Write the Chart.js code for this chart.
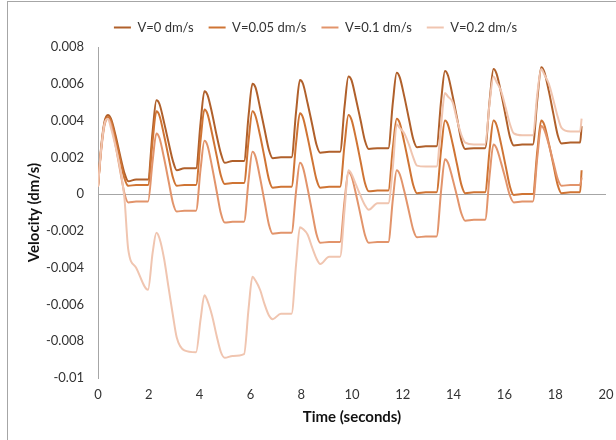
<!DOCTYPE html>
<html>
<head>
<meta charset="utf-8">
<script src="https://cdn.jsdelivr.net/npm/chart.js@4.4.1/dist/chart.umd.min.js"></script>
<style>
  body { margin: 0; background: #fff; }
  #wrap { position: relative; width: 616px; height: 440px; overflow: hidden; }
  #frame { position: absolute; left: 7px; top: 1px; width: 640px; height: 460px;
           border-left: 1px solid #a6a6a6; border-top: 1px solid #a6a6a6; }
  canvas { position: absolute; left: 0; top: 0; }
</style>
</head>
<body>
<div id="wrap">
  <div id="frame"></div>
  <canvas id="chart" width="616" height="440"></canvas>
</div>
<script>
// time (seconds), shared by all four series
const times = [
  0, 0.12, 0.25, 0.39, 0.51, 0.69, 0.87, 1.04, 1.19, 1.5,
  1.97, 2.15, 2.30, 2.42, 2.60, 2.78, 2.95, 3.10, 3.40,
  3.86, 4.04, 4.19, 4.31, 4.49, 4.67, 4.84, 4.99, 5.30,
  5.75, 5.93, 6.08, 6.20, 6.38, 6.56, 6.73, 6.88, 7.20,
  7.62, 7.80, 7.95, 8.07, 8.25, 8.43, 8.60, 8.75, 9.10,
  9.53, 9.71, 9.86, 9.98, 10.16, 10.34, 10.51, 10.66, 11.00,
  11.43, 11.61, 11.76, 11.88, 12.06, 12.24, 12.41, 12.56, 12.90,
  13.33, 13.51, 13.66, 13.78, 13.96, 14.14, 14.31, 14.46, 14.80,
  15.24, 15.42, 15.57, 15.69, 15.87, 16.05, 16.22, 16.37, 16.70,
  17.12, 17.30, 17.45, 17.57, 17.75, 17.93, 18.10, 18.25, 18.60,
  18.98, 19.04
];

const v0 = [
  0.0004, 0.0025, 0.0039, 0.0043, 0.0041, 0.0032, 0.0021, 0.00115, 0.0007, 0.0008,
  0.0008, 0.0034, 0.0051, 0.0049, 0.0039, 0.0028, 0.0018, 0.0013, 0.0014,
  0.0014, 0.0039, 0.0056, 0.0054, 0.0044, 0.0032, 0.0022, 0.0017, 0.0018,
  0.0018, 0.0043, 0.0060, 0.0058, 0.0047, 0.0035, 0.0024, 0.00195, 0.0020,
  0.0020, 0.0045, 0.0062, 0.0060, 0.00495, 0.0038, 0.0027, 0.00225, 0.0023,
  0.0023, 0.0048, 0.0064, 0.0062, 0.00515, 0.0040, 0.0029, 0.00245, 0.0025,
  0.0025, 0.0050, 0.0066, 0.00635, 0.0053, 0.0041, 0.0030, 0.00255, 0.0026,
  0.0026, 0.0051, 0.0067, 0.00645, 0.00535, 0.0041, 0.0029, 0.00245, 0.0025,
  0.0025, 0.0051, 0.0068, 0.00655, 0.0055, 0.00425, 0.0031, 0.00265, 0.0027,
  0.0027, 0.0052, 0.0069, 0.00665, 0.0056, 0.00435, 0.0032, 0.00275, 0.0028,
  0.0028, 0.0037
];

const v005 = [
  0.0004, 0.0024, 0.0038, 0.0042, 0.0040, 0.0030, 0.0019, 0.00087, 0.00045, 0.0005,
  0.0005, 0.0029, 0.0045, 0.00426, 0.0032, 0.0020, 0.0009, 0.00045, 0.0005,
  0.0005, 0.00296, 0.0046, 0.00436, 0.0033, 0.0021, 0.0010, 0.00055, 0.0006,
  0.0006, 0.00294, 0.0045, 0.00425, 0.0032, 0.00196, 0.0008, 0.00035, 0.0004,
  0.0004, 0.0028, 0.0044, 0.00416, 0.0031, 0.0019, 0.0008, 0.00035, 0.0004,
  0.0004, 0.00274, 0.0043, 0.00405, 0.0030, 0.00176, 0.0006, 0.00015, 0.0002,
  0.0002, 0.00254, 0.0041, 0.00386, 0.0028, 0.0016, 0.0005, 0.00005, 0.0001,
  0.0001, 0.00244, 0.0040, 0.00377, 0.00275, 0.00158, 0.00049, 0.00005, 0.0001,
  0.0001, 0.00244, 0.0040, 0.00376, 0.00272, 0.00152, 0.0004, -0.00005, 0.0000,
  0.0000, 0.0024, 0.0040, 0.00377, 0.00275, 0.00158, 0.00049, 0.00005, 0.0001,
  0.0001, 0.0013
];

const v01 = [
  0.0004, 0.0023, 0.0037, 0.0041, 0.0038, 0.00266, 0.0013, 0.00005, -0.00045, -0.0004,
  -0.0004, 0.0018, 0.0033, 0.00305, 0.00196, 0.0007, -0.00048, -0.00095, -0.0009,
  -0.0009, 0.00138, 0.0029, 0.00264, 0.00149, 0.00017, -0.00106, -0.00155, -0.0015,
  -0.0015, 0.00078, 0.0023, 0.00204, 0.00089, -0.00043, -0.00166, -0.00215, -0.0021,
  -0.0021, 0.00018, 0.0017, 0.00144, 0.00032, -0.00097, -0.00217, -0.00265, -0.0026,
  -0.0026, -0.00032, 0.0012, 0.00097, -0.00002, -0.00116, -0.00222, -0.00265, -0.0026,
  -0.0026, -0.00026, 0.0013, 0.00108, 0.00015, -0.00093, -0.00194, -0.00235, -0.0023,
  -0.0023, 0.00022, 0.0019, 0.0017, 0.00084, -0.00015, -0.00107, -0.00145, -0.0014,
  -0.0014, 0.00106, 0.0027, 0.0025, 0.0017, 0.00078, -0.00009, -0.00045, -0.0004,
  -0.0004, 0.00206, 0.0037, 0.0035, 0.00268, 0.00172, 0.00082, 0.00045, 0.0005,
  0.0005, 0.0009
];

const v02 = [
  0.0004, 0.0024, 0.0038, 0.0041, 0.0036, 0.0026, 0.0014, -0.0002, -0.0030, -0.0040,
  -0.0052, -0.0032, -0.0021, -0.0024, -0.0035, -0.0051, -0.0066, -0.0078, -0.0085,
  -0.0086, -0.0068, -0.0055, -0.0058, -0.0066, -0.0077, -0.0086, -0.0089, -0.0088,
  -0.0087, -0.0062, -0.0045, -0.0047, -0.0052, -0.0060, -0.0066, -0.0068, -0.0065,
  -0.0065, -0.0038, -0.0018, -0.0019, -0.0022, -0.0029, -0.0035, -0.0038, -0.0034,
  -0.0034, -0.0008, 0.0013, 0.0011, 0.0005, -0.0001, -0.0006, -0.00085, -0.0005,
  -0.0005, 0.0015, 0.0038, 0.0036, 0.0033, 0.0027, 0.0020, 0.00155, 0.0015,
  0.0015, 0.0038, 0.0055, 0.0053, 0.0050, 0.0040, 0.0032, 0.0028, 0.0027,
  0.0027, 0.0050, 0.0064, 0.0061, 0.0056, 0.0047, 0.0038, 0.0033, 0.0032,
  0.0032, 0.0055, 0.0068, 0.0065, 0.0060, 0.0051, 0.0042, 0.0036, 0.0034,
  0.0034, 0.0041
];

const seriesLabels = ["V=0 dm/s", "V=0.05 dm/s", "V=0.1 dm/s", "V=0.2 dm/s"];
const seriesValues = [v0, v005, v01, v02];
const seriesColors = ["#b0602b", "#cf7434", "#e2946b", "#f0c5b0"];

const xTicks = [0, 2, 4, 6, 8, 10, 12, 14, 16, 18, 20];
const yTicks = [0.008, 0.006, 0.004, 0.002, 0, -0.002, -0.004, -0.006, -0.008, -0.01];

const FONT = "Lato, 'Open Sans', sans-serif";

const datasets = seriesValues.map((vals, i) => ({
  label: seriesLabels[i],
  data: times.map((t, j) => ({ x: t, y: vals[j] })),
  borderColor: seriesColors[i],
  backgroundColor: seriesColors[i],
  borderWidth: 2,
  pointRadius: 0,
  cubicInterpolationMode: "monotone",
  fill: false,
  order: seriesValues.length - i   // later series drawn on top, like the original
}));

// a bit more room under the legend without moving its text
const legendGap = {
  id: "legendGap",
  beforeUpdate(chart) {
    const lg = chart.legend;
    if (lg && !lg._gap) {
      const fit = lg.fit;
      lg.fit = function () { fit.call(this); this.height += 3; };
      lg._gap = true;
    }
  }
};

const ctx = document.getElementById("chart").getContext("2d");
new Chart(ctx, {
  type: "line",
  data: { datasets: datasets },
  plugins: [legendGap],
  options: {
    responsive: false,
    animation: false,
    layout: { padding: { top: 6, left: 25, right: 10, bottom: 12 } },
    plugins: {
      tooltip: { enabled: false },
      legend: {
        position: "top",
        labels: {
          usePointStyle: true,
          pointStyle: "line",
          pointStyleWidth: 17,
          boxHeight: 13,
          padding: 15,
          color: "#333",
          font: { family: FONT, size: 13 },
          generateLabels: (chart) => chart.data.datasets.map((d, i) => ({
            text: d.label,
            strokeStyle: d.borderColor,
            fillStyle: d.borderColor,
            lineWidth: 2,
            pointStyle: "line",
            datasetIndex: i,
            hidden: false,
            fontColor: "#333"
          }))
        }
      }
    },
    scales: {
      x: {
        type: "linear",
        min: 0,
        max: 20,
        afterBuildTicks: (s) => { s.ticks = xTicks.map(v => ({ value: v })); },
        afterFit: (s) => { s.height = 50; s.paddingRight = 0; s.paddingLeft = 0; },
        grid: { display: false, drawTicks: false },
        border: { display: false },
        ticks: { padding: 9, color: "#333", font: { family: FONT, size: 13 } },
        title: {
          display: true,
          text: "Time (seconds)",
          color: "#111",
          font: { family: FONT, size: 15, weight: "bold" },
          padding: { top: 0, bottom: 2 }
        }
      },
      y: {
        min: -0.01,
        max: 0.008,
        afterBuildTicks: (s) => { s.ticks = yTicks.map(v => ({ value: v })); },
        afterFit: (s) => { s.width = 98 - 25; },
        grid: {
          drawTicks: false,
          color: (c) => (c.tick && c.tick.value === 0 ? "#a6a6a6" : "rgba(0,0,0,0)"),
          lineWidth: 1
        },
        border: { display: true, color: "#a6a6a6", width: 1 },
        ticks: {
          padding: 14,
          color: "#333",
          font: { family: FONT, size: 13 },
          callback: (v) => String(Number(v.toFixed(3)))
        },
        title: {
          display: true,
          text: "Velocity (dm/s)",
          color: "#111",
          font: { family: FONT, size: 15, weight: "bold" },
          padding: { top: 0, bottom: 0 }
        }
      }
    }
  }
});
</script>
</body>
</html>
